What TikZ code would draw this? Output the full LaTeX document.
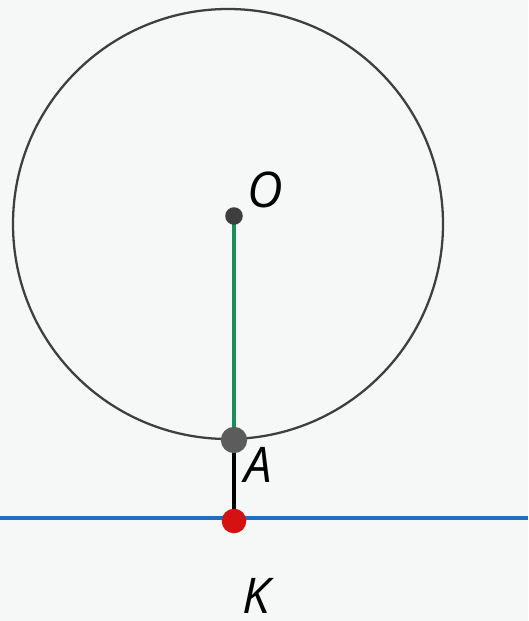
\documentclass[tikz,border=0pt]{standalone}
\usepackage{fontspec}
\setmainfont{Open Sans}
\usepackage{xcolor}
\usepackage{tikz}
\usetikzlibrary{positioning}
\definecolor{bgcol}{HTML}{F6F7F7}
\definecolor{circcol}{HTML}{3F3F3F}
\definecolor{radcol}{HTML}{1E8C5C}
\definecolor{tancol}{HTML}{1F6EC2}
\definecolor{ptcol}{HTML}{D41212}
\definecolor{acol}{HTML}{5C5C5C}

\begin{document}
\begin{tikzpicture}[
  x=0.02cm, y=-0.02cm,
  dot/.style={circle, inner sep=0pt, minimum size=#1},
  lbl/.style={font=\fontsize{28}{28}\selectfont\itshape, inner sep=0pt},
]
\fill[bgcol] (0,0) rectangle (528,621);
\useasboundingbox (0,0) rectangle (528,621);
\draw[circcol, line width=1.3pt] (228,224) circle[radius=215];
\coordinate (L) at (0,518);
\coordinate (R) at (528,518);
\coordinate (cO) at (234,216);
\coordinate (cA) at (234,440);
\coordinate (cK) at (234,521);
\draw[tancol, line width=2.4pt] (L) -- (R);
% segments under the points
\draw[radcol, line width=2.6pt] (cO) -- (cA);
\draw[black, line width=2.4pt] (cA) -- (cK);
\node[dot=10pt, fill=circcol] (O) at (cO) {};
\node[dot=15pt, fill=acol] (A) at (cA) {};
\node[dot=14pt, fill=ptcol] (K) at (cK) {};
\node[lbl] (lO) at (265,190) {O};
\node[lbl] (lA) at (258,465) {A};
\node[lbl] (lK) at (256,596) {K};
\end{tikzpicture}
\end{document}
